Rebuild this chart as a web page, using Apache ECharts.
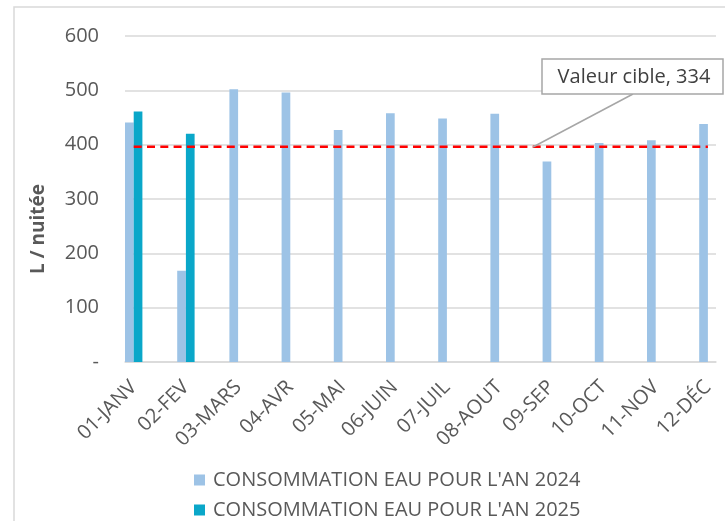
<!DOCTYPE html>
<html>
<head>
<meta charset="utf-8">
<script src="https://cdn.jsdelivr.net/npm/echarts@6/dist/echarts.min.js"></script>
<style>
  html, body { margin: 0; padding: 0; background: #fff; }
  #chart { width: 725px; height: 521px; }
</style>
</head>
<body>
<div id="chart"></div>
<script>
// données
const categories = ['01-JANV', '02-FEV', '03-MARS', '04-AVR', '05-MAI', '06-JUIN',
                    '07-JUIL', '08-AOUT', '09-SEP', '10-OCT', '11-NOV', '12-DÉC'];
const conso2024 = [441, 168, 502, 496, 427, 458, 448, 457, 369, 403, 408, 438];
const conso2025 = [461, 420, null, null, null, null, null, null, null, null, null, null];
const cible = [396, 396, 396, 396, 396, 396, 396, 396, 396, 396, 396, 396];
const yTicks = [0, 100, 200, 300, 400, 500, 600];
const cibleLabel = 'Valeur cible, 334';
const name2024 = "CONSOMMATION EAU POUR L'AN 2024";
const name2025 = "CONSOMMATION EAU POUR L'AN 2025";

const font = 'Open Sans';
const grey = '#595959';
const gridColor = '#d9d9d9';

function legendItem(name, top) {
    return {
        data: [name],
        left: 194,
        top: top,
        padding: 0,
        itemWidth: 11,
        itemHeight: 11,
        icon: 'rect',
        textStyle: { color: grey, fontSize: 20, padding: [0, 0, 0, 3] }
    };
}

let myChart = echarts.init(document.getElementById('chart'));
myChart.setOption({
    animation: false,
    textStyle: { fontFamily: font },
    grid: [
        { left: 125, right: 9, top: 36, bottom: 159 },
        { left: 133.7, right: 17.1, top: 36, bottom: 159 }
    ],
    legend: [legendItem(name2024, 470), legendItem(name2025, 500)],
    xAxis: [{
        type: 'category',
        gridIndex: 0,
        data: categories,
        axisLine: { lineStyle: { color: gridColor, width: 1.5 } },
        axisTick: { show: false },
        axisLabel: { show: false }
    }, {
        type: 'category',
        gridIndex: 1,
        data: categories,
        boundaryGap: false,
        axisLine: { show: false },
        axisTick: { show: false },
        axisLabel: { rotate: 45, margin: 22, color: grey, fontSize: 20 }
    }],
    yAxis: [{
        type: 'value',
        gridIndex: 0,
        min: yTicks[0],
        max: yTicks[yTicks.length - 1],
        interval: 100,
        axisLine: { show: false },
        axisTick: { show: false },
        splitLine: { lineStyle: { color: gridColor, width: 1.5 } },
        axisLabel: {
            margin: 26,
            color: grey,
            fontSize: 20,
            formatter: v => v === 0 ? '-' : String(v)
        }
    }, {
        type: 'value',
        gridIndex: 1,
        min: yTicks[0],
        max: yTicks[yTicks.length - 1],
        show: false
    }],
    series: [{
        name: name2024,
        type: 'bar',
        xAxisIndex: 1,
        yAxisIndex: 1,
        barWidth: 8.7,
        barGap: '0%',
        itemStyle: { color: '#9dc3e6' },
        data: conso2024
    }, {
        name: name2025,
        type: 'bar',
        xAxisIndex: 1,
        yAxisIndex: 1,
        barWidth: 8.7,
        barGap: '0%',
        itemStyle: { color: '#0aa7c9' },
        data: conso2025
    }, {
        name: 'Valeur cible',
        type: 'line',
        xAxisIndex: 1,
        yAxisIndex: 1,
        symbol: 'none',
        z: 5,
        lineStyle: { color: '#ff0000', width: 2.5, type: [8, 5.3] },
        data: cible
    }],
    graphic: [{
        // cadre du graphique
        type: 'rect',
        z: -10,
        shape: { x: 14, y: 7, width: 800, height: 600 },
        style: { fill: 'none', stroke: gridColor, lineWidth: 1.5 }
    }, {
        type: 'text',
        x: 38.5,
        y: 229,
        rotation: Math.PI / 2,
        style: {
            text: 'L / nuitée',
            fill: grey,
            font: 'bold 19px "Open Sans"',
            textAlign: 'center',
            textVerticalAlign: 'middle'
        }
    }, {
        type: 'line',
        z: 10,
        shape: { x1: 533, y1: 147, x2: 633, y2: 94 },
        style: { stroke: '#a6a6a6', lineWidth: 1.5 }
    }, {
        type: 'rect',
        z: 10,
        shape: { x: 542, y: 59, width: 181, height: 35 },
        style: { fill: '#fff', stroke: '#a6a6a6', lineWidth: 1.5 }
    }, {
        type: 'text',
        z: 11,
        x: 634,
        y: 77,
        style: {
            text: cibleLabel,
            fill: '#404040',
            font: '20px "Open Sans"',
            textAlign: 'center',
            textVerticalAlign: 'middle'
        }
    }]
});
</script>
</body>
</html>
